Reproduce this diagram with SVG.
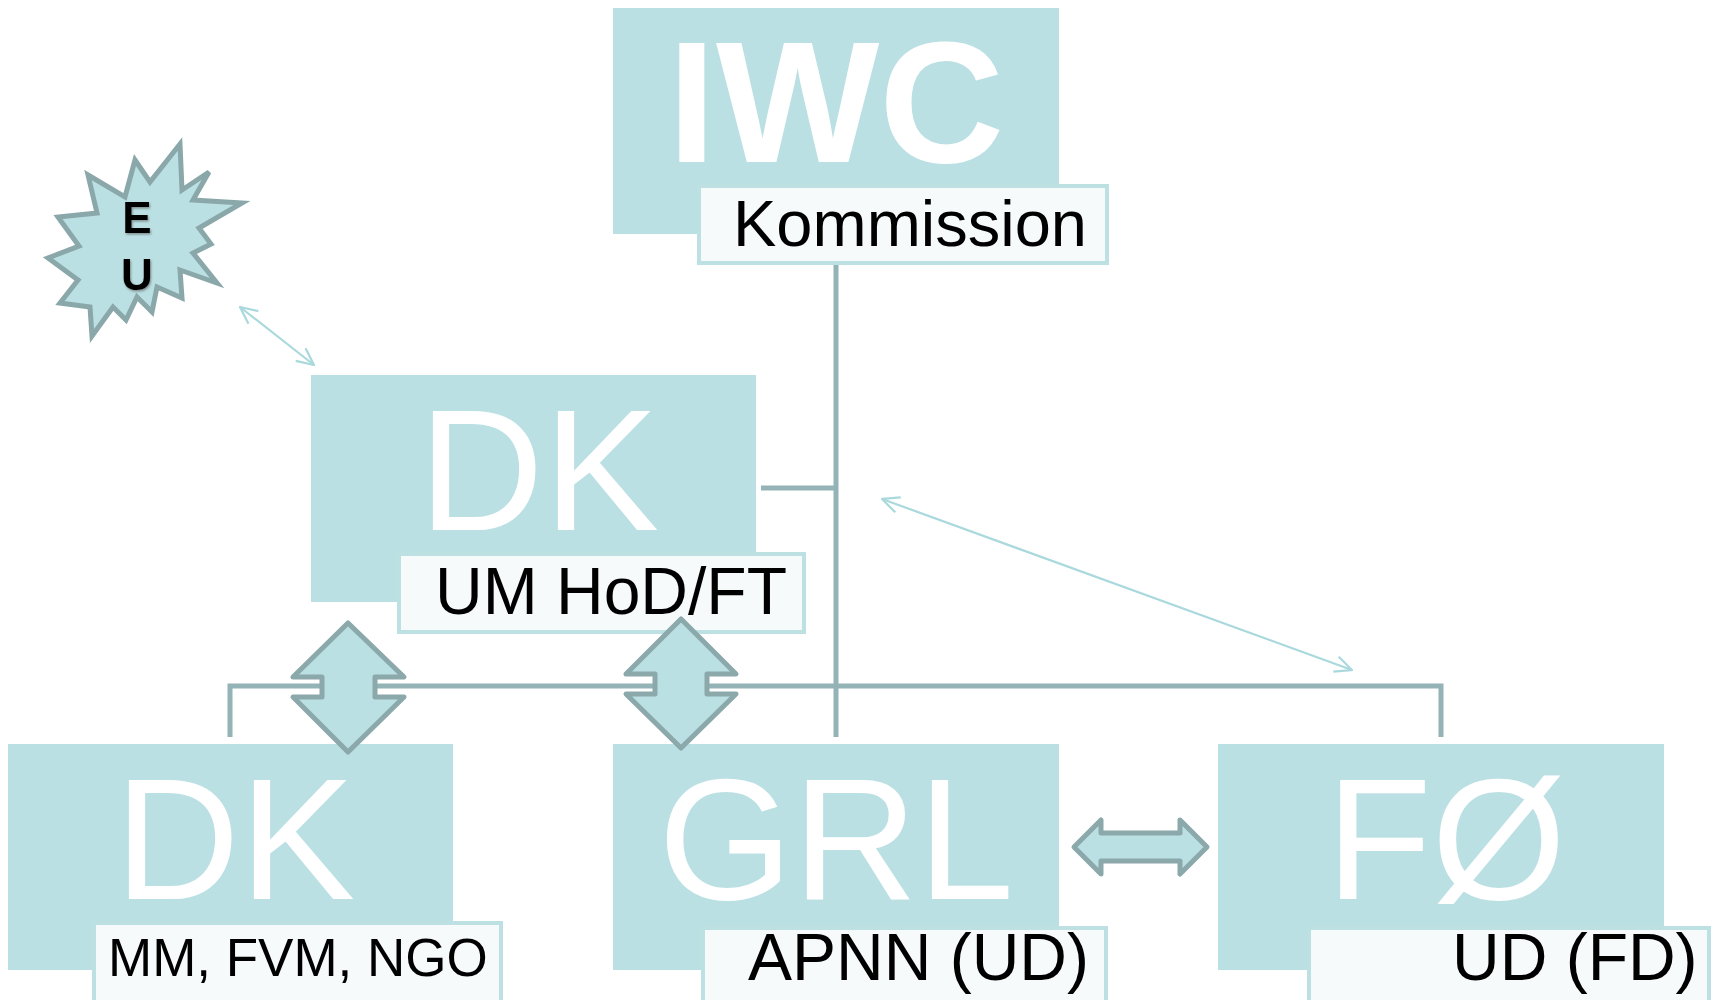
<svg xmlns="http://www.w3.org/2000/svg" width="1713" height="1000" viewBox="0 0 1713 1000">
<style>
.box{fill:#bbe0e3}
.lab{fill:#f6fafb;stroke:#bde0e3;stroke-width:4}
.big{font-family:"Liberation Sans",Arial,sans-serif;fill:#ffffff;font-size:173px}
.sm{font-family:"Liberation Sans",Arial,sans-serif;fill:#000000}
.conn{stroke:#94b3b6;stroke-width:5;fill:none}
.thin{stroke:#aad9dd;stroke-width:2.2;fill:none}
.blk{fill:#bbe0e3;stroke:#8ba8ab;stroke-width:5;stroke-linejoin:round}
</style>
<defs>
<marker id="ah" viewBox="0 0 20 20" refX="19" refY="10" markerWidth="20" markerHeight="20" markerUnits="userSpaceOnUse" orient="auto-start-reverse">
<path d="M2,2 L19,10 L2,18" fill="none" stroke="#aad9dd" stroke-width="2.2"/>
</marker>
<filter id="sh" x="-20%" y="-20%" width="140%" height="140%">
<feDropShadow dx="1" dy="1.5" stdDeviation="1" flood-color="#555" flood-opacity="0.6"/>
</filter>
</defs>

<g id="connectors">
<path class="conn" d="M836,264 V737"/>
<path class="conn" d="M761,488 H836"/>
<path class="conn" d="M230,737 V686 H1441 V737"/>
<line class="thin" x1="240" y1="307" x2="314" y2="365" marker-start="url(#ah)" marker-end="url(#ah)"/>
<line class="thin" x1="882" y1="499" x2="1352" y2="670" marker-start="url(#ah)" marker-end="url(#ah)"/>
</g>

<g id="node-eu">
<path fill="#bbe0e3" stroke="#8aa7aa" stroke-width="5" stroke-linejoin="miter" d="M180,144 L182,190 L209,172 L193,200 L242,203 L199,228 L211,244 L193,253 L217,283 L180,270 L182,298 L157,287 L152,312 L137,297 L126,320 L113,307 L92,336 L90,307 L60,303 L78,280 L48,258 L79,246 L58,217 L97,213 L88,175 L125,197 L135,160 L150,182 Z"/>
<g filter="url(#sh)">
<text class="sm" x="137" y="233" font-size="44" font-weight="bold" text-anchor="middle">E</text>
<text class="sm" x="137" y="290" font-size="44" font-weight="bold" text-anchor="middle">U</text>
</g>
</g>

<g id="node-iwc">
<rect class="box" x="613" y="8" width="446" height="226"/>
<text class="big" x="836" y="162" text-anchor="middle" font-weight="bold" font-size="174">IWC</text>
<rect class="lab" x="699" y="186" width="408" height="77"/>
<text class="sm" x="733" y="246" font-size="65">Kommission</text>
</g>

<g id="node-dk-top">
<rect class="box" x="311" y="375" width="445" height="227"/>
<text class="big" x="539" y="530" text-anchor="middle">DK</text>
<rect class="lab" x="399" y="554" width="405" height="78"/>
<text class="sm" x="435" y="614" font-size="66">UM HoD/FT</text>
</g>

<g id="node-dk">
<rect class="box" x="8" y="744" width="445" height="226"/>
<text class="big" x="235" y="899" text-anchor="middle">DK</text>
<rect class="lab" x="94" y="923" width="407" height="79"/>
<text class="sm" x="108" y="976" font-size="53">MM, FVM, NGO</text>
</g>

<g id="node-grl">
<rect class="box" x="613" y="744" width="446" height="226"/>
<text class="big" x="836" y="899" text-anchor="middle">GRL</text>
<rect class="lab" x="703" y="928" width="403" height="74"/>
<text class="sm" x="748" y="980" font-size="66">APNN (UD)</text>
</g>

<g id="node-fo">
<rect class="box" x="1218" y="744" width="446" height="226"/>
<text class="big" x="1446" y="899" text-anchor="middle">FØ</text>
<rect class="lab" x="1309" y="928" width="400" height="74"/>
<text class="sm" x="1452" y="980" font-size="66">UD (FD)</text>
</g>

<g id="block-arrows">
<path class="blk" d="M348,623 L404,677 L375,677 L375,697 L404,697 L348,752 L293,697 L322,697 L322,677 L293,677 Z"/>
<path class="blk" d="M681,619 L736,674 L707,674 L707,694 L736,694 L681,748 L626,694 L655,694 L655,674 L626,674 Z"/>
<path class="blk" d="M1074,847 L1101,820 L1101,833 L1180,833 L1180,820 L1207,847 L1180,874 L1180,861 L1101,861 L1101,874 Z"/>
</g>
</svg>
